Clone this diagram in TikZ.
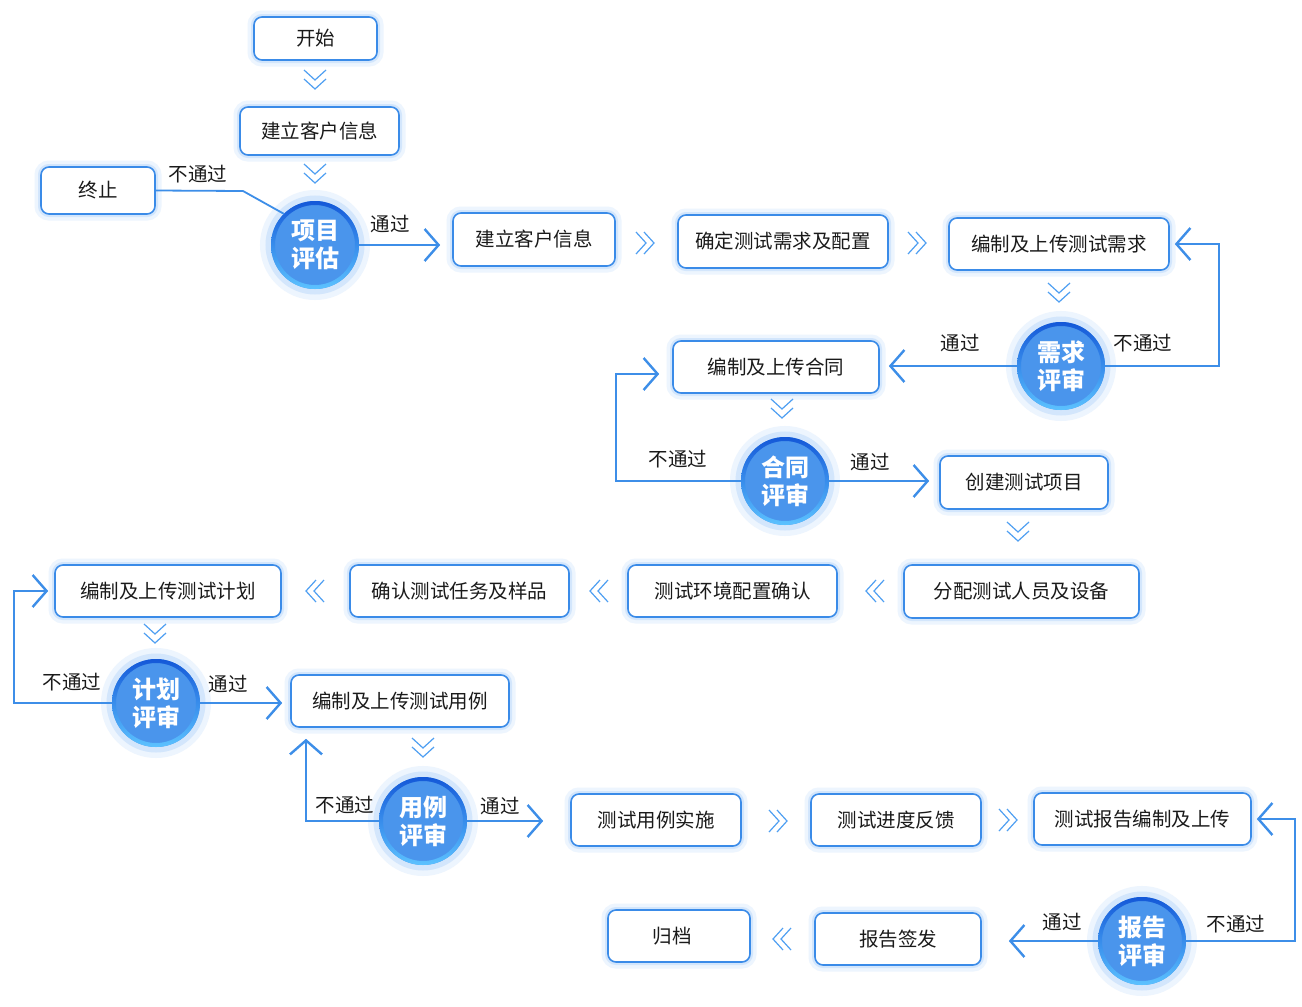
\documentclass[tikz,border=0pt]{standalone}
\usepackage{fontspec}
\setmainfont{Noto Sans CJK SC}
\usetikzlibrary{arrows.meta,calc}
\definecolor{lineblue}{HTML}{3D8EE8}
\definecolor{boxblue}{HTML}{3A8BE8}
\definecolor{glowA}{HTML}{EDF5FE}
\definecolor{glowB}{HTML}{D3E6FC}
\definecolor{rimtop}{HTML}{1458D8}
\definecolor{rimbot}{HTML}{5CC2FF}
\definecolor{discfill}{HTML}{4A95EC}
\definecolor{chevblue}{HTML}{4F9FF2}
\definecolor{innerblue}{HTML}{C9DFFA}
\definecolor{txt}{HTML}{1A1A1A}
\pgfdeclareverticalshading{boxshade}{100bp}{color(0bp)=(innerblue); color(14bp)=(white); color(100bp)=(white)}
\begin{document}
\begin{tikzpicture}[x=1pt,y=-1pt,
  proc/.style={rectangle, rounded corners=8pt, draw=boxblue, line width=1.6pt,
    shade, shading=boxshade, font=\fontsize{19.5}{22}\selectfont, text=txt, inner sep=0pt,
    preaction={draw=glowA, line width=13pt}, preaction={draw=glowB, line width=6pt}},
  rev/.style={circle, minimum size=88pt, inner sep=0pt, fill=discfill, text=white,
    font=\fontsize{24}{28}\selectfont\bfseries, align=center,
    preaction={draw=glowA, line width=22pt}, preaction={draw=glowB, line width=11pt},
    path picture={\shade[top color=rimtop, bottom color=rimbot, even odd rule]
      (path picture bounding box.center) circle[radius=44pt] circle[radius=40pt];}},
  conn/.style={draw=lineblue, line width=1.8pt},
  arr/.style={-{Straight Barb[length=14pt,width=32pt,line width=2.4pt]}},
  lbl/.style={font=\fontsize{19.5}{22}\selectfont, text=txt, inner sep=0pt},
  chev/.style={draw=chevblue, line width=1.2pt},
  chevD/.pic={\draw[chev] (-11,-11)--(0,-1)--(11,-11) (-11,-2)--(0,8)--(11,-2);},
  chevR/.pic={\draw[chev] (-10,-11)--(0,0)--(-10,11) (-2,-11)--(8,0)--(-2,11);},
  chevL/.pic={\draw[chev] (10,-11)--(0,0)--(10,11) (2,-11)--(-8,0)--(2,11);}
]
\useasboundingbox (0,0) rectangle (1302,1007);
\fill[white] (0,0) rectangle (1302,1007);

% boxes
\node[proc, minimum width=123pt, minimum height=43pt] (b1) at (315.5,38.5) {开始};
\node[proc, minimum width=159pt, minimum height=48pt] (b2) at (319.5,131) {建立客户信息};
\node[proc, minimum width=114pt, minimum height=47pt] (b3) at (98,190.5) {终止};
\node[proc, minimum width=162pt, minimum height=53pt] (b5) at (534,239.5) {建立客户信息};
\node[proc, minimum width=210pt, minimum height=53pt] (b6) at (783,241.5) {确定测试需求及配置};
\node[proc, minimum width=220pt, minimum height=52pt] (b7) at (1059,244) {编制及上传测试需求};
\node[proc, minimum width=206pt, minimum height=52pt] (b9) at (776,367) {编制及上传合同};
\node[proc, minimum width=168pt, minimum height=53pt] (b11) at (1024,482.5) {创建测试项目};
\node[proc, minimum width=235pt, minimum height=53pt] (b12) at (1021.5,591.5) {分配测试人员及设备};
\node[proc, minimum width=209pt, minimum height=52pt] (b13) at (732.5,591) {测试环境配置确认};
\node[proc, minimum width=219pt, minimum height=52pt] (b14) at (459.5,591) {确认测试任务及样品};
\node[proc, minimum width=226pt, minimum height=52pt] (b15) at (168,591) {编制及上传测试计划};
\node[proc, minimum width=218pt, minimum height=52pt] (b17) at (400,701) {编制及上传测试用例};
\node[proc, minimum width=170pt, minimum height=52pt] (b19) at (656,820) {测试用例实施};
\node[proc, minimum width=170pt, minimum height=52pt] (b20) at (896,820) {测试进度反馈};
\node[proc, minimum width=217pt, minimum height=52pt] (b21) at (1142.5,819) {测试报告编制及上传};
\node[proc, minimum width=166pt, minimum height=52pt] (b23) at (898,939) {报告签发};
\node[proc, minimum width=142pt, minimum height=52pt, text width=142pt, align=center] (b24) at (679,936) {\hspace*{-14pt}归档};

% review circles
\node[rev] (c1) at (315,245) {项目\\评估};
\node[rev] (c2) at (1061,366) {需求\\评审};
\node[rev] (c3) at (785,481) {合同\\评审};
\node[rev] (c4) at (156,703) {计划\\评审};
\node[rev] (c5) at (423,821) {用例\\评审};
\node[rev] (c6) at (1142,941) {报告\\评审};

% helper coordinates
\coordinate (k1) at (243,191);
\coordinate (r1) at (1219,0);
\coordinate (l1) at (616,0);
\coordinate (l2) at (14,0);
\coordinate (l3) at (306,0);
\coordinate (r2) at (1295,0);
\coordinate (a9) at ($(b9.west)+(0,7)$);

% connectors
\draw[conn] (c1.135) -- (k1) -- (b3.east);
\draw[conn,arr,shorten >=12pt] (c1.east) -- (c1.east -| b5.west);
\draw[conn,arr,shorten >=9pt] (c2.west) -- (c2.west -| b9.east);
\draw[conn,arr,shorten >=5pt] (c2.east) -| (r1 |- b7.east) -- (b7.east);
\draw[conn,arr,shorten >=13pt] (c3.west) -| (l1 |- a9) -- (a9);
\draw[conn,arr,shorten >=10pt] (c3.east) -- (c3.east -| b11.west);
\draw[conn,arr,shorten >=6pt] (c4.west) -| (l2 |- b15.west) -- (b15.west);
\draw[conn,arr,shorten >=8pt] (c4.east) -- (c4.east -| b17.west);
\draw[conn,arr,shorten >=11pt] (c5.west) -| (l3 |- b17.south);
\draw[conn,arr,shorten >=27pt] (c5.east) -- (c5.east -| b19.west);
\draw[conn,arr,shorten >=5pt] (c6.east) -| (r2 |- b21.east) -- (b21.east);
\draw[conn,arr,shorten >=27pt] (c6.west) -- (c6.west -| b23.east);

% labels
\node[lbl] (t1) at (198,174) {不通过};
\node[lbl] (t2) at (390,224) {通过};
\node[lbl] (t3) at (960,343) {通过};
\node[lbl] (t4) at (1143,343) {不通过};
\node[lbl] (t5) at (678,459) {不通过};
\node[lbl] (t6) at (870,462) {通过};
\node[lbl] (t7) at (72,682) {不通过};
\node[lbl] (t8) at (228,684) {通过};
\node[lbl] (t9) at (345,805) {不通过};
\node[lbl] (t10) at (500,806) {通过};
\node[lbl] (t11) at (1062,922) {通过};
\node[lbl] (t12) at (1236,924) {不通过};

% chevrons
\pic at (315,81) {chevD};
\pic at (315,175) {chevD};
\pic at (1059,294) {chevD};
\pic at (782,410) {chevD};
\pic at (1018,533) {chevD};
\pic at (155,635) {chevD};
\pic at (423,749) {chevD};
\pic at (646,243) {chevR};
\pic at (918,243) {chevR};
\pic at (779,821) {chevR};
\pic at (1009,820) {chevR};
\pic at (314,591) {chevL};
\pic at (598,591) {chevL};
\pic at (874,591) {chevL};
\pic at (781,939) {chevL};
\end{tikzpicture}
\end{document}
